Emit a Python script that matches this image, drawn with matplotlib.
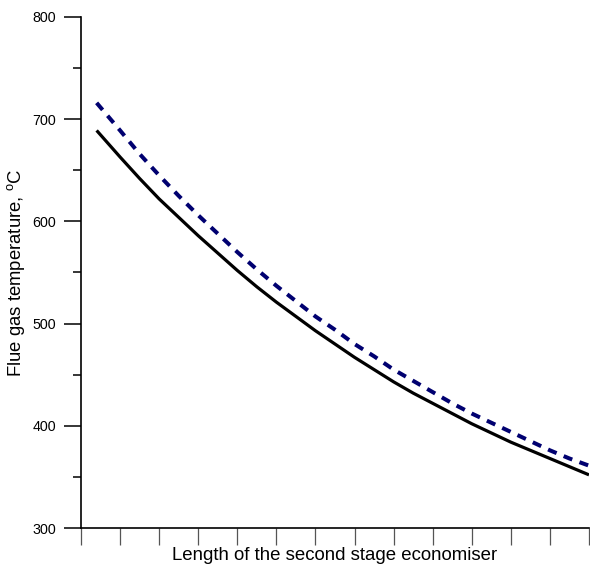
import numpy as np
import matplotlib.pyplot as plt

plt.rcParams['font.family'] = ['Liberation Sans', 'DejaVu Sans']
plt.rcParams['mathtext.default'] = 'regular'

# values (x in tick units, 13 ticks across the axis)
length = [0.4, 1, 1.5, 2, 2.5, 3, 3.5, 4, 4.5, 5, 5.5, 6, 6.5, 7, 7.5, 8, 8.5,
          9, 9.5, 10, 10.5, 11, 11.5, 12, 12.5, 13]
temp_solid = [689, 663, 642, 622, 604, 586, 569, 552, 536, 521, 507, 493, 480, 467,
              455, 443, 432, 422, 412, 402, 393, 384, 376, 368, 360, 352]
temp_dashed = [716, 689, 666, 645, 625, 606, 588, 570, 553, 537, 522, 507, 494, 480,
               468, 455, 444, 433, 422, 412, 403, 394, 385, 376, 368, 361]

fig = plt.figure(figsize=(5.9, 5.68), dpi=100)
ax = fig.add_axes([81/590, 40/568, 508/590, 511/568])

ax.plot(length, temp_solid, color='black', lw=2.3, solid_capstyle='butt')
ax.plot(length, temp_dashed, color='#000070', lw=2.9, dashes=(2.3, 1.9))

ax.set_xlim(0, 13)
ax.set_ylim(300, 800)
ax.set_xticks(np.arange(0, 14))
ax.set_xticklabels([])
ax.set_yticks([300, 400, 500, 600, 700, 800])
ax.set_yticks([350, 450, 550, 650, 750], minor=True)

for s in ['top', 'right']:
    ax.spines[s].set_visible(False)
for s in ['left', 'bottom']:
    ax.spines[s].set_linewidth(1.2)

ax.tick_params(axis='y', which='major', direction='out', length=12, width=1.1, labelsize=10.3, pad=6)
ax.tick_params(axis='y', which='minor', direction='out', length=6, width=1.1)
ax.tick_params(axis='x', which='major', direction='out', length=12, width=0.9, colors='#555555')

ax.set_ylabel(r'Flue gas temperature, $^{o}$C', fontsize=13.3, labelpad=4)
ax.set_xlabel('Length of the second stage economiser', fontsize=13.4, labelpad=-2)

fig.savefig('out.png', dpi=100)
